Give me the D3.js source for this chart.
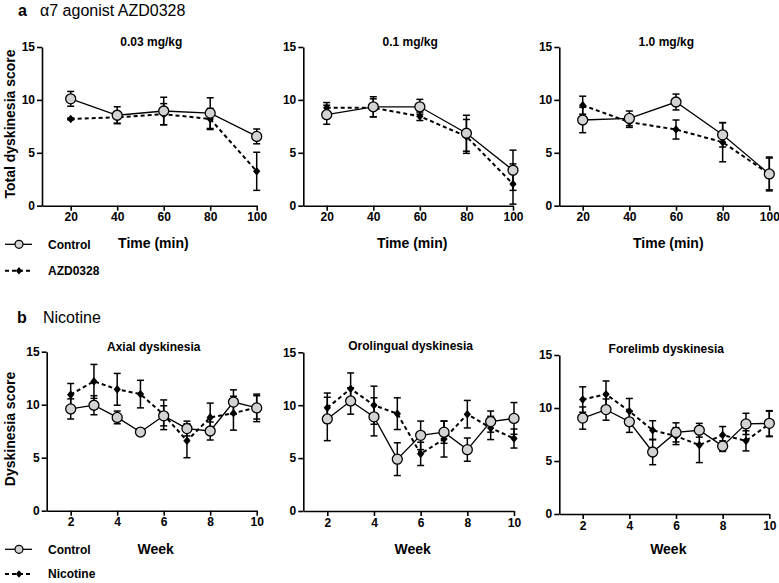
<!DOCTYPE html>
<html><head><meta charset="utf-8">
<script src="https://cdn.jsdelivr.net/npm/d3@7"></script>
<style>body{margin:0;background:#fff}svg{display:block;font-family:"Liberation Sans",Arial,sans-serif}</style>
</head><body><svg id="c" width="779" height="583"></svg>
<script>
// ---------- data ----------
const timeCats = [20, 40, 60, 80, 100];
const weekCats = [2, 3, 4, 5, 6, 7, 8, 9, 10];
const yTicks = [0, 5, 10, 15];
const timeTicks = [20, 40, 60, 80, 100];
const weekTicks = [2, 4, 6, 8, 10];

const panelTitles = ["0.03 mg/kg", "0.1 mg/kg", "1.0 mg/kg", "Axial dyskinesia", "Orolingual dyskinesia", "Forelimb dyskinesia"];

// alpha7 agonist AZD0328
const ctrl003 = [10.1, 8.55, 8.95, 8.75, 6.55];
const ctrl003Err = [0.7, 0.8, 1.3, 1.45, 0.7];
const azd003 = [8.2, 8.35, 8.65, 8.2, 3.25];
const azd003Err = [0.08, 0.55, 1.0, 1.0, 1.8];

const ctrl01 = [8.6, 9.35, 9.35, 6.85, 3.35];
const ctrl01Err = [0.9, 0.95, 0.7, 1.7, 1.9];
const azd01 = [9.25, 9.25, 8.45, 6.55, 2.05];
const azd01Err = [0.5, 0.85, 0.4, 1.6, 1.9];

const ctrl10 = [8.1, 8.25, 9.8, 6.7, 3.0];
const ctrl10Err = [1.2, 0.7, 0.75, 1.15, 1.6];
const azd10 = [9.5, 7.9, 7.2, 6.0, 3.0];
const azd10Err = [0.85, 0.5, 0.9, 1.85, 1.5];

// Nicotine
const ctrlAx = [9.6, 9.95, 8.8, 7.42, 8.95, 7.75, 7.52, 10.25, 9.7];
const ctrlAxErr = [0.95, 0.9, 0.6, 0.25, 0.95, 0.7, 0.85, 1.15, 1.3];
const nicAx = [10.95, 12.2, 11.45, 11.0, 9.05, 6.6, 8.8, 9.2, 9.75];
const nicAxErr = [1.05, 1.6, 1.5, 1.3, 1.4, 1.6, 1.35, 1.6, 1.1];

const ctrlOr = [8.7, 10.4, 8.9, 4.9, 7.15, 7.45, 5.8, 8.45, 8.75];
const ctrlOrErr = [2.05, 1.25, 1.8, 1.55, 1.35, 1.05, 1.1, 1.0, 1.5];
const nicOr = [9.75, 11.55, 10.0, 9.2, 5.4, 6.8, 9.15, 7.85, 6.85];
const nicOrErr = [1.4, 1.5, 1.8, 1.5, 1.1, 1.7, 1.3, 1.1, 0.9];

const ctrlFo = [9.05, 9.85, 8.7, 5.85, 7.7, 7.9, 6.4, 8.5, 8.55];
const ctrlFoErr = [1.05, 1.0, 1.0, 1.2, 0.9, 0.65, 0.5, 1.0, 1.2];
const nicFo = [10.8, 11.3, 9.7, 7.9, 7.35, 6.5, 7.45, 6.9, 8.5];
const nicFoErr = [1.2, 1.25, 1.2, 0.9, 0.8, 1.65, 0.8, 0.95, 1.2];

// ---------- layout ----------
const FONT = '"Liberation Sans", Arial, sans-serif';
const panels = [
  {title: panelTitles[0], cats: timeCats, ticks: timeTicks, c: ctrl003, ce: ctrl003Err, t: azd003, te: azd003Err, ax: 42, px0: 70.7, px1: 256.7, y0: 205.7, y15: 47, tb: 46},
  {title: panelTitles[1], cats: timeCats, ticks: timeTicks, c: ctrl01, ce: ctrl01Err, t: azd01, te: azd01Err, ax: 303.3, px0: 326.7, px1: 513, y0: 205.7, y15: 47, tb: 46},
  {title: panelTitles[2], cats: timeCats, ticks: timeTicks, c: ctrl10, ce: ctrl10Err, t: azd10, te: azd10Err, ax: 559.3, px0: 582.7, px1: 769.3, y0: 205.7, y15: 47, tb: 46},
  {title: panelTitles[3], cats: weekCats, ticks: weekTicks, c: ctrlAx, ce: ctrlAxErr, t: nicAx, te: nicAxErr, ax: 46.7, px0: 70.7, px1: 256.7, y0: 510.7, y15: 351.7, tb: 351},
  {title: panelTitles[4], cats: weekCats, ticks: weekTicks, c: ctrlOr, ce: ctrlOrErr, t: nicOr, te: nicOrErr, ax: 303.3, px0: 327.3, px1: 514, y0: 511, y15: 352.3, tb: 350},
  {title: panelTitles[5], cats: weekCats, ticks: weekTicks, c: ctrlFo, ce: ctrlFoErr, t: nicFo, te: nicFoErr, ax: 559.3, px0: 582.7, px1: 769.3, y0: 514, y15: 355, tb: 353}
];

const svg = d3.select("#c");
const diamond = (s) => `M0,${-s}L${s*0.85},0L0,${s}L${-s*0.85},0Z`;

panels.forEach((p, i) => {
  const v0 = p.ticks[0], v1 = p.ticks[p.ticks.length - 1];
  const ppu = (p.px1 - p.px0) / (v1 - v0);
  const x = d3.scaleLinear().domain([v0 - (p.px0 - p.ax) / ppu, v1]).range([p.ax, p.px1]);
  const y = d3.scaleLinear().domain([0, 15]).range([p.y0, p.y15]);
  const g = svg.append("g");

  const xa = g.append("g").attr("transform", `translate(0,${p.y0})`)
    .call(d3.axisBottom(x).tickValues(p.ticks).tickSize(5).tickSizeOuter(0).tickPadding(2));
  const ya = g.append("g").attr("transform", `translate(${p.ax},0)`)
    .call(d3.axisLeft(y).tickValues(yTicks).tickSize(5).tickSizeOuter(0).tickPadding(2));
  [xa, ya].forEach(a => {
    a.select(".domain").attr("stroke", "#000").attr("stroke-width", 1.6);
    a.selectAll(".tick line").attr("stroke", "#000").attr("stroke-width", 1.6);
    a.selectAll(".tick text").attr("fill", "#000").style("font-family", FONT)
      .style("font-size", "12px").style("font-weight", "bold");
  });

  // title
  g.append("text").attr("x", (p.ax + p.px1) / 2 + 2).attr("y", p.tb)
    .attr("text-anchor", "middle").style("font-family", FONT).style("font-size", "12px")
    .style("font-weight", "bold").text(p.title);

  // x-axis title
  g.append("text").attr("x", (p.ax + p.px1) / 2 + 4).attr("y", i < 3 ? 248 : 554)
    .attr("text-anchor", "middle").style("font-family", FONT).style("font-size", "14px")
    .style("font-weight", "bold").text(i < 3 ? "Time (min)" : "Week");

  const series = [
    {v: p.t, e: p.te, dash: "4,3", w: 2},
    {v: p.c, e: p.ce, dash: null, w: 1.3}
  ];
  // error bars
  series.forEach(s => {
    const eg = g.append("g").attr("stroke", "#000").attr("stroke-width", 1.5);
    p.cats.forEach((c, k) => {
      const cx = x(c), yt = y(s.v[k] + s.e[k]), yb = y(s.v[k] - s.e[k]);
      eg.append("line").attr("x1", cx).attr("x2", cx).attr("y1", yt).attr("y2", yb);
      eg.append("line").attr("x1", cx - 3.5).attr("x2", cx + 3.5).attr("y1", yt).attr("y2", yt);
      eg.append("line").attr("x1", cx - 3.5).attr("x2", cx + 3.5).attr("y1", yb).attr("y2", yb);
    });
  });
  // lines
  series.forEach(s => {
    const line = d3.line().x((d, k) => x(p.cats[k])).y(d => y(d));
    g.append("path").datum(s.v).attr("d", line).attr("fill", "none")
      .attr("stroke", "#000").attr("stroke-width", s.w)
      .attr("stroke-dasharray", s.dash);
  });
  // markers
  g.append("g").selectAll("path").data(p.t).join("path")
    .attr("d", diamond(4.3))
    .attr("transform", (d, k) => `translate(${x(p.cats[k])},${y(d)})`)
    .attr("fill", "#000");
  g.append("g").selectAll("circle").data(p.c).join("circle")
    .attr("cx", (d, k) => x(p.cats[k])).attr("cy", d => y(d)).attr("r", 5)
    .attr("fill", "#d3d3d3").attr("stroke", "#000").attr("stroke-width", 1.3);
});

// y-axis labels
svg.append("text").attr("transform", "translate(15,124) rotate(-90)").attr("text-anchor", "middle")
  .style("font-family", FONT).style("font-size", "14px").style("font-weight", "bold").text("Total dyskinesia score");
svg.append("text").attr("transform", "translate(15,429) rotate(-90)").attr("text-anchor", "middle")
  .style("font-family", FONT).style("font-size", "14px").style("font-weight", "bold").text("Dyskinesia score");

// headers
[["a", "\u03b17 agonist AZD0328", 16, 18, 40], ["b", "Nicotine", 323, 17, 43]].forEach(h => {
  svg.append("text").attr("x", h[3]).attr("y", h[2]).style("font-family", FONT)
    .style("font-size", "16px").style("font-weight", "bold").text(h[0]);
  svg.append("text").attr("x", h[4]).attr("y", h[2]).style("font-family", FONT)
    .style("font-size", "16px").text(h[1]);
});

// legends
const legends = [
  {y: 244.3, label: "Control", ctrl: true},
  {y: 270.7, label: "AZD0328", ctrl: false},
  {y: 549.3, label: "Control", ctrl: true},
  {y: 574, label: "Nicotine", ctrl: false}
];
legends.forEach(l => {
  const g = svg.append("g");
  g.append("line").attr("x1", 5).attr("x2", 32).attr("y1", l.y).attr("y2", l.y)
    .attr("stroke", "#000").attr("stroke-width", l.ctrl ? 1.3 : 2)
    .attr("stroke-dasharray", l.ctrl ? null : "4,3");
  if (l.ctrl) {
    g.append("circle").attr("cx", 19).attr("cy", l.y).attr("r", 4)
      .attr("fill", "#d3d3d3").attr("stroke", "#000").attr("stroke-width", 1.2);
  } else {
    g.append("path").attr("d", diamond(3.8)).attr("transform", `translate(19,${l.y})`).attr("fill", "#000");
  }
  g.append("text").attr("x", 48).attr("y", l.y + 4.3).style("font-family", FONT)
    .style("font-size", "12px").style("font-weight", "bold").text(l.label);
});
</script></body></html>
